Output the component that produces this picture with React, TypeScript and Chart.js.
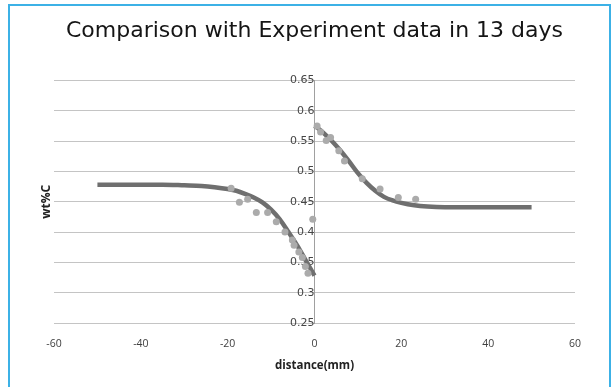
import React, { useEffect, useRef } from 'react';
import { Chart, registerables } from 'chart.js';

Chart.register(...registerables);

const titleText = 'Comparison with Experiment data in 13 days';
const xAxisTitle = 'distance(mm)';
const yAxisTitle = 'wt%C';

const xTicks = [-60, -40, -20, 0, 20, 40, 60];
const yTicks = [0.25, 0.3, 0.35, 0.4, 0.45, 0.5, 0.55, 0.6, 0.65];
const yTickLabels = ['0.25', '0.3', '0.35', '0.4', '0.45', '0.5', '0.55', '0.6', '0.65'];

// Model curve, left of the interface
const modelLeftX = [-50, -45, -40, -35, -30, -26, -23, -20, -18, -16, -14, -12, -10, -8, -6, -4, -2, 0];
const modelLeftY = [0.478, 0.478, 0.478, 0.478, 0.477, 0.476, 0.474, 0.471, 0.468, 0.463, 0.457, 0.449, 0.437, 0.421, 0.4, 0.378, 0.353, 0.328];

// Model curve, right of the interface
const modelRightX = [0, 1, 2, 4, 6, 8, 10, 12, 14, 16, 18, 20, 23, 26, 30, 35, 40, 45, 50];
const modelRightY = [0.575, 0.57, 0.564, 0.55, 0.534, 0.516, 0.497, 0.481, 0.468, 0.458, 0.452, 0.448, 0.444, 0.442, 0.441, 0.441, 0.441, 0.441, 0.441];

// Experiment data
const expX = [-19.2, -17.3, -15.4, -13.4, -10.8, -8.8, -6.8, -5.1, -4.7, -3.6, -2.8, -2.1, -1.5, -0.4, 0.6, 1.4, 2.7, 3.7, 5.6, 6.9, 11.0, 15.1, 19.3, 23.3];
const expY = [0.472, 0.449, 0.454, 0.432, 0.432, 0.417, 0.4, 0.387, 0.378, 0.367, 0.358, 0.343, 0.332, 0.421, 0.575, 0.565, 0.551, 0.556, 0.534, 0.517, 0.488, 0.471, 0.457, 0.454];

const toPoints = (xs: number[], ys: number[]) => xs.map((x, i) => ({ x, y: ys[i] }));

export default function App() {
  const ref = useRef<HTMLCanvasElement>(null);

  useEffect(() => {
    if (!ref.current) return;
    const yTitlePlugin = {
      id: 'yTitleText',
      afterDraw(chart: any) {
        const { ctx, chartArea } = chart;
        ctx.save();
        ctx.translate(47, (chartArea.top + chartArea.bottom) / 2);
        ctx.rotate(-Math.PI / 2);
        ctx.font = 'bold 12px "Open Sans"';
        ctx.fillStyle = '#222222';
        ctx.textAlign = 'center';
        ctx.textBaseline = 'middle';
        ctx.fillText(yAxisTitle, 0, 0);
        ctx.restore();
      },
    };

    const chart = new Chart(ref.current, {
      type: 'scatter',
      data: {
        datasets: [
          {
            label: 'Experiment',
            data: toPoints(expX, expY),
            pointRadius: 3.5,
            pointBackgroundColor: '#ababab',
            pointBorderWidth: 0,
            showLine: false,
            order: 0,
          } as any,
          {
            label: 'Model left',
            type: 'line',
            data: toPoints(modelLeftX, modelLeftY),
            borderColor: '#6f6f6f',
            borderWidth: 4.5,
            pointRadius: 0,
            cubicInterpolationMode: 'monotone',
            fill: false,
            order: 1,
          } as any,
          {
            label: 'Model right',
            type: 'line',
            data: toPoints(modelRightX, modelRightY),
            borderColor: '#6f6f6f',
            borderWidth: 4.5,
            pointRadius: 0,
            cubicInterpolationMode: 'monotone',
            fill: false,
            order: 1,
          } as any,
        ],
      },
      options: {
        responsive: false,
        animation: false,
        layout: { padding: { left: 54, right: 39, top: 0, bottom: 0 } },
        plugins: {
          legend: { display: false },
          tooltip: { enabled: false },
          title: {
            display: true,
            text: titleText,
            color: '#151515',
            font: { family: 'DejaVu Sans', size: 22, weight: 'normal' },
            padding: { top: 18, bottom: 36 },
          },
        },
        scales: {
          x: {
            type: 'linear',
            min: -60,
            max: 60,
            afterBuildTicks: (s: any) => {
              s.ticks = xTicks.map((v) => ({ value: v }));
            },
            afterFit: (s: any) => {
              s.height = 64;
            },
            ticks: {
              font: { family: 'Open Sans', size: 10.5 },
              color: '#404040',
              padding: 15,
            },
            grid: { display: false, drawTicks: false },
            border: { display: false },
            title: {
              display: true,
              text: xAxisTitle,
              color: '#222222',
              font: { family: 'Open Sans', size: 11.5, weight: 'bold' },
              padding: { top: 0, bottom: 14 },
            },
          },
          y: {
            type: 'linear',
            position: { x: 0 } as any,
            min: 0.25,
            max: 0.65,
            afterBuildTicks: (s: any) => {
              s.ticks = yTicks.map((v) => ({ value: v }));
            },
            ticks: {
              font: { family: 'DejaVu Sans', size: 11 },
              color: '#454545',
              padding: 2,
              callback: (_v: any, i: number) => yTickLabels[i],
            },
            grid: { color: '#c4c4c4', drawTicks: false, lineWidth: 1 },
            border: { display: true, color: '#a0a0a0', width: 1 },
          },
        },
      },
      plugins: [yTitlePlugin],
    });
    return () => chart.destroy();
  }, []);

  return (
    <div style={{ position: 'fixed', left: 0, top: 0, width: 614, height: 387, overflow: 'hidden', background: '#ffffff' }}>
      <canvas ref={ref} width={614} height={387} style={{ position: 'absolute', left: 0, top: 0, width: 614, height: 387 }} />
      <div
        style={{
          position: 'absolute',
          left: 8,
          top: 4,
          width: 603,
          height: 400,
          boxSizing: 'border-box',
          border: '2px solid #3cb1e6',
          pointerEvents: 'none',
        }}
      />
    </div>
  );
}
